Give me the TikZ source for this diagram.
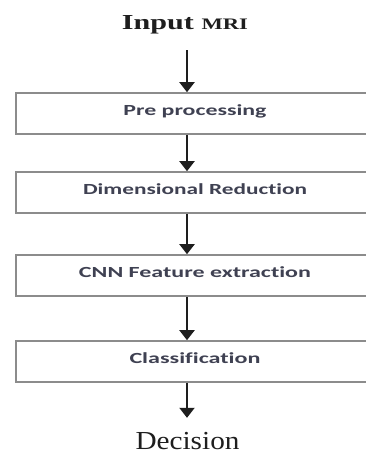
\documentclass[tikz,border=0pt]{standalone}
\usepackage{fontspec}
\usepackage{graphicx}
\setmainfont{Liberation Serif}
\newfontfamily\carl[Ligatures={NoCommon}]{Carlito}
\usetikzlibrary{arrows.meta}
\definecolor{boxtext}{HTML}{3F4152}
\definecolor{boxline}{HTML}{8C8C8C}
\definecolor{arrcol}{HTML}{1E1E1E}
\newcommand\fitbox[4]{\resizebox{#1}{#2}{#3\smash{#4}\vphantom{H}}}
\begin{document}
\begin{tikzpicture}[x=1pt,y=1pt,
  stage/.style={draw=boxline, line width=1.6pt, rectangle, minimum width=358pt,
    minimum height=41pt, inner sep=0pt, text depth=7pt, text=boxtext},
  arr/.style={draw=arrcol, line width=2pt, -{Triangle[length=10pt,width=15pt]}},
  endtext/.style={inner sep=0pt, anchor=base, text=arrcol}]
\clip (0,0) rectangle (366,-455);
\fill[white] (0,0) rectangle (366,-455);
\coordinate (ax) at (187,0);
\node[endtext] (in) at (185,-29) {\fitbox{126pt}{14pt}{\fontsize{20}{20}\selectfont\bfseries}{Input {\fontsize{15}{15}\selectfont MRI}}};
\node[stage] (b1) at (195,-113.5) {\fitbox{143pt}{10pt}{\carl\bfseries}{Pre processing}};
\node[stage] (b2) at (195,-192.5) {\fitbox{224pt}{10pt}{\carl\bfseries}{Dimensional Reduction}};
\node[stage] (b3) at (195,-275.5) {\fitbox{232pt}{10pt}{\carl\bfseries}{CNN Feature extraction}};
\node[stage] (b4) at (195,-361.5) {\fitbox{131pt}{10pt}{\carl\bfseries}{Classification}};
\node[endtext] (dec) at (187.5,-449) {\fitbox{104pt}{17pt}{}{Decision}};
\draw[arr, shorten <=21pt] (in.base -| ax) -- (b1.north -| ax);
\draw[arr] (b1.south -| ax) -- (b2.north -| ax);
\draw[arr] (b2.south -| ax) -- (b3.north -| ax);
\draw[arr] (b3.south -| ax) -- (b4.north -| ax);
\draw[arr, shorten >=14pt] (b4.south -| ax) -- (dec.north -| ax);
\end{tikzpicture}
\end{document}
